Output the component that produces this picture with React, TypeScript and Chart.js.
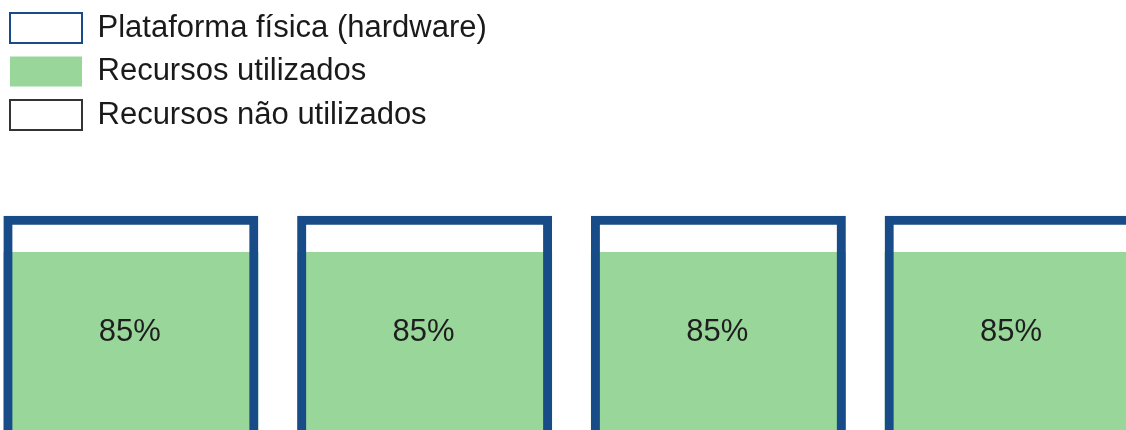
import React, { useEffect, useRef } from "react";
import { Chart, registerables } from "chart.js";

Chart.register(...registerables);

// ---- data ----
const categories = ["Servidor 1", "Servidor 2", "Servidor 3", "Servidor 4"];
const hardwareValues = [100, 100, 100, 100];
const usedValues = [85, 85, 85, 85];
const unusedValues = [15, 15, 15, 15];
const seriesNames = [
  "Plataforma física (hardware)",
  "Recursos utilizados",
  "Recursos não utilizados",
];

// ---- styles ----
const BLUE = "#184c88";
const GREEN = "#99d69a";
const FONT = "'Liberation Sans', Arial, Helvetica, sans-serif";

const legendShift = {
  id: "legendShift",
  afterLayout(chart: any) {
    const l = chart.legend;
    if (l) {
      l.left += 13.5;
      l.right += 13.5;
    }
  },
};

const valueLabels = {
  id: "valueLabels",
  afterDatasetsDraw(chart: any) {
    const meta = chart.getDatasetMeta(1);
    const ctx = chart.ctx;
    ctx.save();
    ctx.font = `31px ${FONT}`;
    ctx.fillStyle = "#1e1e1e";
    ctx.textAlign = "center";
    ctx.textBaseline = "middle";
    meta.data.forEach((bar: any, i: number) => {
      ctx.fillText(`${usedValues[i]}%`, bar.x - 1, bar.y + 80);
    });
    ctx.restore();
  },
};

export default function App() {
  const canvasRef = useRef<HTMLCanvasElement | null>(null);

  useEffect(() => {
    const canvas = canvasRef.current;
    if (!canvas) return;
    const chart = new Chart(canvas, {
      type: "bar",
      data: {
        labels: categories,
        datasets: [
          {
            label: seriesNames[0],
            data: hardwareValues,
            backgroundColor: "rgba(255,255,255,0)",
            borderColor: BLUE,
            borderWidth: 9,
            borderSkipped: false,
            grouped: false,
            stack: "hw",
            order: 0,
            barPercentage: 0.868,
            categoryPercentage: 1,
          },
          {
            label: seriesNames[1],
            data: usedValues,
            backgroundColor: GREEN,
            borderColor: GREEN,
            borderWidth: 0,
            grouped: false,
            stack: "res",
            order: 1,
            barPercentage: 0.868,
            categoryPercentage: 1,
          },
          {
            label: seriesNames[2],
            data: unusedValues,
            backgroundColor: "#ffffff",
            borderColor: "#333333",
            borderWidth: 0,
            grouped: false,
            stack: "res",
            order: 2,
            barPercentage: 0.868,
            categoryPercentage: 1,
          },
        ],
      },
      options: {
        responsive: false,
        maintainAspectRatio: false,
        animation: false,
        devicePixelRatio: 1,
        layout: { padding: 0 },
        scales: {
          x: { display: false },
          y: { display: false, stacked: true, min: 0, max: 189 },
        },
        plugins: {
          tooltip: { enabled: false },
          legend: {
            position: "chartArea",
            align: "start",
            labels: {
              boxWidth: 72,
              boxHeight: 30,
              padding: 12.5,
              color: "#1a1a1a",
              font: { size: 31, family: FONT },
              generateLabels: (c: any) =>
                Chart.defaults.plugins.legend.labels
                  .generateLabels(c)
                  .map((item: any) => ({
                    ...item,
                    lineWidth: item.datasetIndex === 1 ? 0 : 2,
                  })),
            },
          },
        },
      } as any,
      plugins: [legendShift, valueLabels],
    });
    return () => chart.destroy();
  }, []);

  return (
    <div
      style={{
        position: "fixed",
        left: 0,
        top: 0,
        width: 1126,
        height: 430,
        overflow: "hidden",
        background: "#ffffff",
      }}
    >
      <canvas
        ref={canvasRef}
        width={1175}
        height={458}
        style={{ position: "absolute", left: -16, top: 0, width: 1175, height: 458 }}
      />
    </div>
  );
}
